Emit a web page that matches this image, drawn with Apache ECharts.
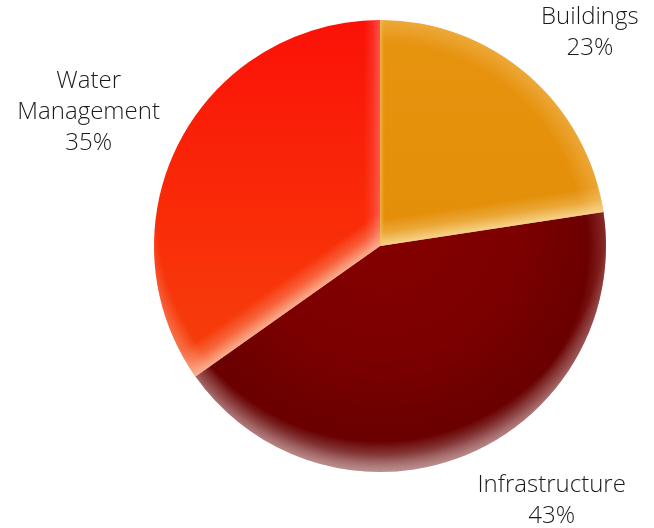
<!DOCTYPE html>
<html>
<head>
<meta charset="utf-8">
<script src="https://cdn.jsdelivr.net/npm/echarts@6/dist/echarts.min.js"></script>
<style>
html,body{margin:0;padding:0;background:#fff;}
#chart{width:654px;height:528px;}
</style>
</head>
<body>
<div id="chart"></div>
<script>
// ---- data ----
var categories = ['Buildings', 'Infrastructure', 'Water Management'];
var labelNames = ['Buildings', 'Infrastructure', 'Water\nManagement'];
var values = [22.6, 42.6, 34.8];

// ---- layout / style ----
var CX = 380, CY = 246, R = 226;
var total = values.reduce(function (a, b) { return a + b; }, 0);
// slice boundary angles (degrees clockwise from 12 o'clock)
var bounds = [0];
values.forEach(function (v, i) { bounds.push(bounds[i] + v / total * 360); });
function rad(d) { return d * Math.PI / 180; }

var NONE = 'rgba(255,255,255,0)';
function rgba(c, a) { return 'rgba(' + c + ',' + a + ')'; }
function stopsOf(stops) { return stops.map(function (s) { return { offset: s[0], color: s[1] }; }); }
function radial(cx, cy, r, stops) {
  return { type: 'radial', x: cx, y: cy, r: r, global: true, colorStops: stopsOf(stops) };
}
function linear(x, y, x2, y2, stops) {
  return { type: 'linear', x: x, y: y, x2: x2, y2: y2, global: true, colorStops: stopsOf(stops) };
}
// glow along the straight edge at angle a, spreading into the slice
function edgeGlow(a, isStart, width, rgb, alpha) {
  var t = rad(a);
  var nx = isStart ? Math.cos(t) : -Math.cos(t);
  var ny = isStart ? Math.sin(t) : -Math.sin(t);
  return linear(CX, CY, CX + nx * width, CY + ny * width,
    [[0, rgba(rgb, alpha)], [0.5, rgba(rgb, alpha * 0.35)], [1, rgba(rgb, 0)]]);
}
function rim(cx, cy, r, from, rgb, alpha) {
  return radial(cx, cy, r, [[0, rgba(rgb, 0)], [from, rgba(rgb, 0)], [1, rgba(rgb, alpha)]]);
}

var OFF = 30; // offset radial centre (light from below)
var baseFill = [
  linear(CX, CY - R, CX, CY, [[0, '#E79410'], [1, '#E48E08']]),
  radial(CX, CY - OFF, R + OFF, [[0, '#860000'], [0.55, '#7C0000'], [0.8, '#6D0000'], [0.88, '#6A0000'], [0.94, '#884040'], [1, '#BC9C9C']]),
  linear(CX, CY - R, CX, CY + R * 0.6, [[0, '#FB1107'], [0.55, '#F92C08'], [1, '#F5420C']])
];
var rimFill = [
  rim(CX, CY, R, 0.9, '245,200,120', 0.4),
  rim(CX, CY, R, 0.92, '190,120,120', 0.35),
  rim(CX, CY - OFF, R + OFF, 0.87, '250,180,155', 0.85)
];
var endGlow = [
  edgeGlow(bounds[1], false, 26, '248,215,145', 0.95),
  NONE,
  edgeGlow(bounds[3], false, 16, '255,120,120', 0.6)
];
var startGlow = [
  edgeGlow(bounds[0], true, 5, '245,190,100', 0.7),
  NONE,
  edgeGlow(bounds[2], true, 28, '250,180,150', 0.95)
];
var labelOffsets = [[38, -19], [71, 17], [-59, -16]];

function layer(fills) {
  return categories.map(function (c, i) {
    return { name: c, value: values[i], itemStyle: { color: fills[i] } };
  });
}
function overlay(fills) {
  return {
    type: 'pie', center: [CX, CY], radius: R, startAngle: 90, clockwise: true,
    silent: true, data: layer(fills), itemStyle: { borderWidth: 0 },
    label: { show: false }, labelLine: { show: false }, emphasis: { disabled: true }
  };
}

var chart = echarts.init(document.getElementById('chart'), null, { renderer: 'canvas' });
chart.setOption({
  backgroundColor: '#ffffff',
  animation: false,
  series: [
    {
      type: 'pie',
      center: [CX, CY],
      radius: R,
      startAngle: 90,
      clockwise: true,
      data: layer(baseFill),
      itemStyle: { borderWidth: 0 },
      label: {
        show: true,
        position: 'outside',
        formatter: function (p) {
          return labelNames[p.dataIndex] + '\n' + Math.round(p.value / total * 100) + '%';
        },
        fontFamily: 'Open Sans',
        fontWeight: 300,
        fontSize: 24,
        lineHeight: 31,
        color: '#1a1a1a',
        align: 'center',
        width: 200,
        overflow: 'none'
      },
      labelLine: { show: false, length: 30, length2: 0 },
      labelLayout: function (p) {
        var o = labelOffsets[p.dataIndex];
        return { align: 'center', verticalAlign: 'middle', dx: o[0], dy: o[1] };
      }
    },
    overlay(rimFill),
    overlay(endGlow),
    overlay(startGlow)
  ]
});
</script>
</body>
</html>
